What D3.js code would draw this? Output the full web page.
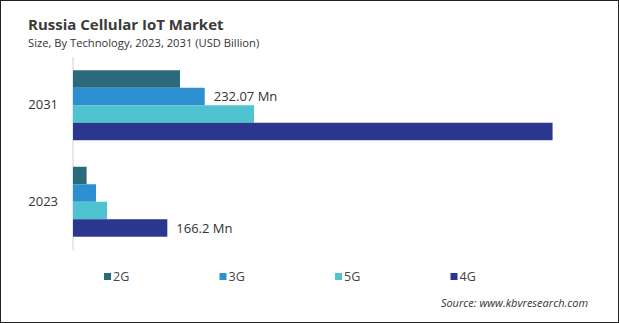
<!DOCTYPE html>
<html>
<head>
<meta charset="utf-8">
<script src="https://cdn.jsdelivr.net/npm/d3@7"></script>
<style>
  body { margin: 0; background: #fff; }
  svg { display: block; font-family: "Open Sans", "Noto Sans", sans-serif; }
</style>
</head>
<body>
<div id="chart"></div>
<script>
// data (USD Mn)
var years = ["2031", "2023"];
var techs = ["2G", "3G", "5G", "4G"];
var values2031 = [188.5, 232.07, 319, 845];
var values2023 = [24, 40.5, 60, 166.2];
var colors = ["#2b6a7a", "#2c90d0", "#4fc3cf", "#2b378f"];
var labels = [{year: "2031", tech: "3G", text: "232.07 Mn"}, {year: "2023", tech: "4G", text: "166.2 Mn"}];

var W = 619, H = 323;

var svg = d3.select("#chart")
  .append("svg")
    .attr("width", W)
    .attr("height", H);

// frame
svg.append("rect")
    .attr("x", 0.5).attr("y", 0.5)
    .attr("width", W - 1).attr("height", H - 1)
    .style("fill", "#fff").style("stroke", "#222");

// title
svg.append("text").attr("x", 28).attr("y", 30).text("Russia Cellular IoT Market")
    .style("font-size", "15px").style("font-weight", "bold").style("fill", "#3a3a3a");
svg.append("text").attr("x", 28).attr("y", 47).text("Size, By Technology, 2023, 2031 (USD Billion)")
    .style("font-size", "11.2px").style("fill", "#333");

var rows = years.map(function(y, i) {
  var vals = i === 0 ? values2031 : values2023;
  return {year: y, vals: techs.map(function(t, j) { return {tech: t, value: vals[j], color: colors[j]}; })};
});

// scales
var x = d3.scaleLinear().domain([0, 850]).range([73, 73 + 850 / 1.762]);
var y = d3.scaleBand().domain(years).range([57, 250]).paddingInner(0.275).paddingOuter(0.1375);
var y1 = d3.scaleBand().domain(techs).range([0, y.bandwidth()]);

// y axis
var yAxis = svg.append("g")
    .attr("transform", "translate(73,0)")
    .call(d3.axisLeft(y).tickSize(0).tickPadding(15));
yAxis.select(".domain").attr("d", "M0,57V250").style("stroke", "#d0d0d0");
yAxis.selectAll("text").style("font-size", "13px").style("fill", "#333")
    .style("font-family", "'Open Sans', 'Noto Sans', sans-serif");

// bars
var groups = svg.selectAll(".grp")
  .data(rows)
  .enter()
  .append("g")
    .attr("transform", function(d) { return "translate(0," + y(d.year) + ")"; });

groups.selectAll("rect")
  .data(function(d) { return d.vals; })
  .enter()
  .append("rect")
    .attr("x", x(0))
    .attr("y", function(d) { return y1(d.tech); })
    .attr("width", function(d) { return x(d.value) - x(0); })
    .attr("height", y1.bandwidth())
    .style("fill", function(d) { return d.color; });

// value labels
labels.forEach(function(l) {
  var r = rows.filter(function(d) { return d.year === l.year; })[0];
  var v = r.vals.filter(function(d) { return d.tech === l.tech; })[0];
  svg.append("text")
      .attr("x", x(v.value) + 9)
      .attr("y", y(l.year) + y1(l.tech) + y1.bandwidth() / 2)
      .attr("dy", "0.35em")
      .text(l.text)
      .style("font-size", "13px").style("fill", "#333");
});

// legend
techs.forEach(function(t, i) {
  var lx = 104 + i * 115.5;
  svg.append("rect").attr("x", lx).attr("y", 273).attr("width", 7).attr("height", 7).style("fill", colors[i]);
  svg.append("text").attr("x", lx + 9).attr("y", 277).attr("dy", "0.35em").text(t)
      .style("font-size", "12.5px").style("fill", "#444");
});

// source
svg.append("text").attr("x", 588).attr("y", 307).attr("text-anchor", "end")
    .text("Source: www.kbvresearch.com")
    .style("font-size", "11px").style("font-style", "italic").style("fill", "#333");
</script>
</body>
</html>
